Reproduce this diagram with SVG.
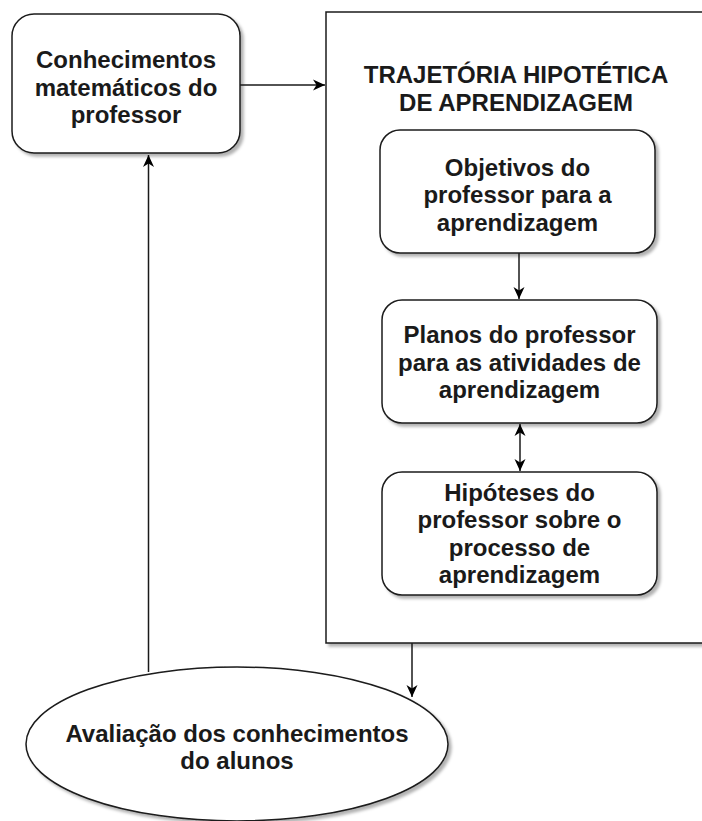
<svg xmlns="http://www.w3.org/2000/svg" width="702" height="821" viewBox="0 0 702 821">
<style>
.shape{fill:#fff;stroke:#1a1a1a;stroke-width:1.5;filter:url(#sh)}
.t{font-family:"Liberation Sans",Arial,sans-serif;font-weight:bold;font-size:24px;fill:#1a1a1a;text-anchor:middle}
.c{stroke:#1a1a1a;stroke-width:1.5;fill:none}
</style>
<defs>
<filter id="sh" x="-10%" y="-10%" width="130%" height="130%">
<feDropShadow dx="3" dy="3" stdDeviation="1.5" flood-color="#000" flood-opacity="0.3"/>
</filter>
<marker id="ah" viewBox="0 0 12 12" refX="12" refY="6" markerWidth="12" markerHeight="12" markerUnits="userSpaceOnUse" orient="auto-start-reverse">
<path d="M0,0.5 L12,6 L0,11.5 L3.5,6 Z" fill="#000"/>
</marker>
</defs>
<rect width="702" height="821" fill="#fff"/>
<g id="thb">
<rect class="shape" x="326" y="12" width="420" height="631"/>
<text class="t" x="516" y="83">TRAJETÓRIA HIPOTÉTICA</text>
<text class="t" x="516" y="110.5">DE APRENDIZAGEM</text>
</g>
<g id="conhecimentos">
<rect class="shape" x="12" y="14" width="228" height="139" rx="22"/>
<text class="t" x="126" y="68">Conhecimentos</text>
<text class="t" x="126" y="95.5">matemáticos do</text>
<text class="t" x="126" y="123">professor</text>
</g>
<g id="objetivos">
<rect class="shape" x="380" y="130" width="275" height="123" rx="20"/>
<text class="t" x="517.5" y="175.5">Objetivos do</text>
<text class="t" x="517.5" y="203">professor para a</text>
<text class="t" x="517.5" y="230.5">aprendizagem</text>
</g>
<g id="planos">
<rect class="shape" x="382" y="300" width="275" height="123" rx="20"/>
<text class="t" x="519.5" y="343">Planos do professor</text>
<text class="t" x="519.5" y="370.5">para as atividades de</text>
<text class="t" x="519.5" y="398">aprendizagem</text>
</g>
<g id="hipoteses">
<rect class="shape" x="382" y="472" width="275" height="123" rx="20"/>
<text class="t" x="519.5" y="500.5">Hipóteses do</text>
<text class="t" x="519.5" y="528">professor sobre o</text>
<text class="t" x="519.5" y="555.5">processo de</text>
<text class="t" x="519.5" y="583">aprendizagem</text>
</g>
<g id="avaliacao">
<ellipse class="shape" cx="237" cy="744" rx="211" ry="77"/>
<text class="t" x="237" y="741.5">Avaliação dos conhecimentos</text>
<text class="t" x="237" y="769">do alunos</text>
</g>
<g id="connectors">
<line class="c" x1="240" y1="85" x2="325" y2="85" marker-end="url(#ah)"/>
<line class="c" x1="519" y1="253" x2="519" y2="299" marker-end="url(#ah)"/>
<line class="c" x1="520" y1="424" x2="520" y2="471" marker-start="url(#ah)" marker-end="url(#ah)"/>
<line class="c" x1="412" y1="643" x2="412" y2="697" marker-end="url(#ah)"/>
<line class="c" x1="148.5" y1="672" x2="148.5" y2="155" marker-end="url(#ah)"/>
</g>
</svg>
